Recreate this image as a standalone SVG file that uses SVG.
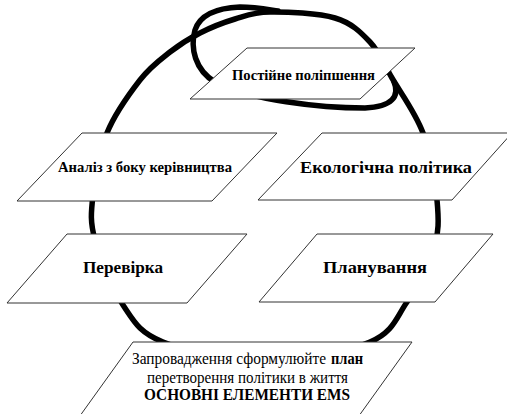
<svg xmlns="http://www.w3.org/2000/svg" width="507" height="414" viewBox="0 0 507 414">
<style>
.loop{fill:none;stroke:#000;stroke-width:5.5;stroke-linecap:round;stroke-linejoin:round}
.box{fill:#fff;stroke:#333;stroke-width:1}
text{font-family:'Liberation Serif','DejaVu Serif',serif;fill:#000}
.b{font-weight:bold}
.m{text-anchor:middle}
</style>
<rect width="507" height="414" fill="#fff"/>
<g id="connectors">
<path class="loop" d="M270 12 C286.7 11.8 318.3 13 335 18 C351.7 23 360.5 32 370 42 C379.5 52 383.2 62.8 392 78 C400.8 93.2 415.5 112.7 423 133 C430.5 153.3 435.2 180.5 437 200 C438.8 219.5 439 233 434 250 C429 267 417.7 286.7 407 302 C396.3 317.3 393.7 332 370 342 C346.3 352 299.5 362 265 362 C230.5 362 186.7 351.5 163 342 C139.3 332.5 134.3 322 123 305 C111.7 288 100 258.3 95 240 C90 221.7 91 212.8 93 195 C95 177.2 99.2 152.2 107 133 C114.8 113.8 129.5 93.5 140 80 C150.5 66.5 160 59.8 170 52 C180 44.2 189.2 38.5 200 33 C210.8 27.5 223.3 22.5 235 19 C246.7 15.5 253.3 12.2 270 12 Z"/>
<path class="loop" d="M394 82 C400 96 392 107 365 108 C320 108 250 100 215 82 C195 70 190 48 195 30 C200 15 215 8 240 7 C255 7 265 9 278 11"/>
</g>
<g id="node-improvement">
<polygon class="box" points="247,48 415,48 360,99 190,99"/>
<text class="b m" x="303.5" y="80" font-size="14" textLength="143" lengthAdjust="spacingAndGlyphs">Постійне поліпшення</text>
</g>
<g id="node-review">
<polygon class="box" points="82,133 277,133 212,201 17,201"/>
<text class="b m" x="145" y="172" font-size="14" textLength="174" lengthAdjust="spacingAndGlyphs">Аналіз з боку керівництва</text>
</g>
<g id="node-policy">
<polygon class="box" points="322,133 512,133 452,200 258,200"/>
<text class="b m" x="386" y="173" font-size="17" textLength="172" lengthAdjust="spacingAndGlyphs">Екологічна політика</text>
</g>
<g id="node-check">
<polygon class="box" points="67,234 247,234 187,303 7,303"/>
<text class="b m" x="123" y="273" font-size="17" textLength="80" lengthAdjust="spacingAndGlyphs">Перевірка</text>
</g>
<g id="node-planning">
<polygon class="box" points="317,234 493,234 435,302 259,302"/>
<text class="b m" x="375" y="273" font-size="17" textLength="104" lengthAdjust="spacingAndGlyphs">Планування</text>
</g>
<g id="node-implementation">
<polygon class="box" points="133,342 412,342 356,420 77,420"/>
<text x="132" y="364" font-size="16" textLength="194" lengthAdjust="spacingAndGlyphs">Запровадження сформулюйте</text>
<text class="b" x="331" y="364" font-size="16" textLength="32" lengthAdjust="spacingAndGlyphs">план</text>
<text class="m" x="247.5" y="383" font-size="16" textLength="201" lengthAdjust="spacingAndGlyphs">перетворення політики в життя</text>
<text class="b m" x="247" y="400" font-size="17" textLength="206" lengthAdjust="spacingAndGlyphs">ОСНОВНІ ЕЛЕМЕНТИ EMS</text>
</g>
</svg>
